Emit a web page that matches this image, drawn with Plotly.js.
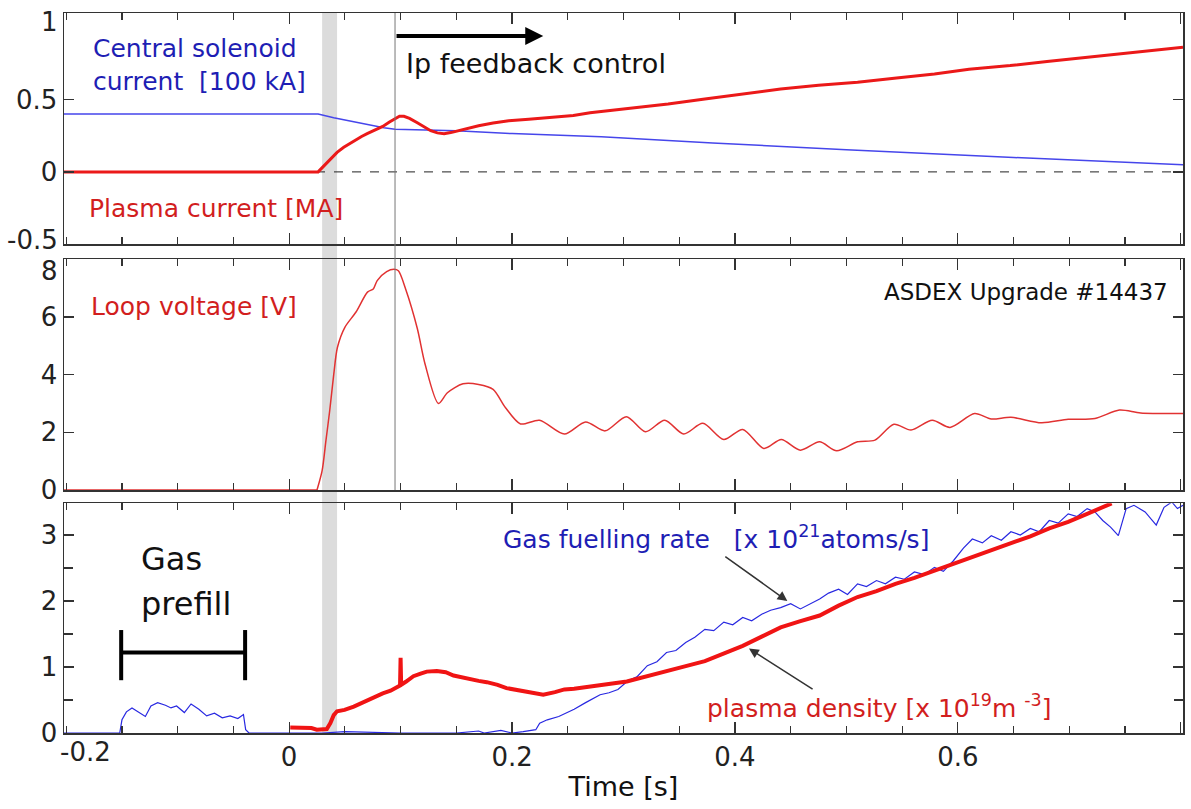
<!DOCTYPE html>
<html>
<head>
<meta charset="utf-8">
<script src="https://cdn.plot.ly/plotly-3.0.1.min.js"></script>
<style>
  html, body { margin: 0; padding: 0; background: #fff; }
  #chart { width: 1191px; height: 809px; }
</style>
</head>
<body>
<div id="chart"></div>
<script>
// ---------- data ----------
// Top panel: central solenoid current [100 kA]
const tCS = [-0.202, 0.026, 0.04, 0.055, 0.07, 0.085, 0.095, 0.12, 0.15, 0.2, 0.28, 0.38, 0.5, 0.65, 0.802];
const iCS = [0.40, 0.40, 0.375, 0.35, 0.325, 0.305, 0.295, 0.29, 0.285, 0.265, 0.243, 0.20, 0.153, 0.10, 0.05];

// Top panel: plasma current [MA]
const tIp = [-0.202, 0.026, 0.031, 0.037, 0.043, 0.049, 0.055, 0.06, 0.065, 0.07, 0.077, 0.084, 0.09, 0.095, 0.099, 0.103, 0.108, 0.115, 0.121, 0.127, 0.133, 0.139, 0.145, 0.152, 0.16, 0.17, 0.183, 0.197, 0.215, 0.238, 0.255, 0.27, 0.304, 0.34, 0.373, 0.41, 0.441, 0.475, 0.51, 0.545, 0.579, 0.61, 0.647, 0.68, 0.716, 0.76, 0.802];
const ip  = [0, 0, 0.04, 0.09, 0.135, 0.17, 0.2, 0.225, 0.245, 0.265, 0.29, 0.315, 0.345, 0.37, 0.385, 0.385, 0.37, 0.34, 0.31, 0.285, 0.27, 0.265, 0.272, 0.285, 0.3, 0.32, 0.338, 0.354, 0.365, 0.377, 0.39, 0.41, 0.44, 0.47, 0.505, 0.54, 0.574, 0.6, 0.62, 0.65, 0.678, 0.71, 0.736, 0.765, 0.794, 0.83, 0.863];

// Middle panel: loop voltage [V]
const tLoop = [-0.202, 0.025, 0.0296, 0.033, 0.0364, 0.04, 0.0433, 0.05, 0.06, 0.0703, 0.0755, 0.079, 0.0875, 0.094, 0.098, 0.1045, 0.115, 0.122, 0.134, 0.142, 0.156, 0.17, 0.183, 0.194, 0.2076, 0.2246, 0.247, 0.266, 0.2836, 0.3026, 0.3197, 0.337, 0.354, 0.3712, 0.39, 0.407, 0.426, 0.4416, 0.4587, 0.4759, 0.4913, 0.51, 0.5256, 0.5426, 0.558, 0.577, 0.593, 0.615, 0.63, 0.6476, 0.675, 0.699, 0.723, 0.745, 0.764, 0.802];
const uLoop = [0, 0, 0.67, 1.71, 2.75, 4.0, 4.94, 5.64, 6.17, 6.86, 6.97, 7.26, 7.57, 7.65, 7.6, 6.97, 5.6, 4.36, 3.0, 3.37, 3.68, 3.66, 3.49, 2.86, 2.29, 2.42, 1.94, 2.36, 2.05, 2.54, 2.02, 2.42, 1.94, 2.31, 1.75, 2.1, 1.44, 1.75, 1.38, 1.67, 1.36, 1.67, 1.73, 2.28, 2.08, 2.42, 2.17, 2.65, 2.46, 2.52, 2.33, 2.45, 2.48, 2.77, 2.67, 2.65];

// Bottom panel: gas fuelling rate [x 10^21 atoms/s]
const tGas = [-0.202, -0.152, -0.150, -0.146, -0.141, -0.136, -0.129, -0.124, -0.118, -0.111, -0.106, -0.101, -0.094, -0.088, -0.081, -0.074, -0.067, -0.060, -0.053, -0.046, -0.041, -0.039, -0.036, 0.03, 0.05, 0.1, 0.15, 0.17, 0.175, 0.19, 0.2, 0.21, 0.2213, 0.2248, 0.2316, 0.2419, 0.2557, 0.266, 0.279, 0.287, 0.295, 0.304, 0.312, 0.3214, 0.33, 0.3386, 0.347, 0.3558, 0.364, 0.373, 0.381, 0.39, 0.398, 0.407, 0.415, 0.424, 0.432, 0.441, 0.45, 0.4587, 0.467, 0.476, 0.484, 0.493, 0.501, 0.51, 0.518, 0.527, 0.535, 0.544, 0.552, 0.561, 0.57, 0.579, 0.587, 0.596, 0.605, 0.613, 0.622, 0.63, 0.639, 0.6476, 0.656, 0.665, 0.673, 0.682, 0.69, 0.699, 0.707, 0.716, 0.723, 0.73, 0.737, 0.744, 0.751, 0.758, 0.768, 0.773, 0.778, 0.785, 0.792, 0.797, 0.802];
const gas  = [0, 0, 0.20, 0.32, 0.38, 0.33, 0.25, 0.41, 0.46, 0.42, 0.38, 0.41, 0.31, 0.44, 0.36, 0.26, 0.30, 0.23, 0.26, 0.22, 0.28, 0.05, 0, 0, 0.02, 0, 0, 0.03, 0, 0.04, 0, 0.02, 0.05, 0.15, 0.20, 0.25, 0.36, 0.46, 0.58, 0.61, 0.66, 0.79, 0.85, 1.02, 1.08, 1.22, 1.25, 1.37, 1.45, 1.57, 1.55, 1.68, 1.64, 1.75, 1.70, 1.80, 1.86, 1.90, 1.96, 1.88, 1.95, 2.03, 2.12, 2.18, 2.10, 2.26, 2.22, 2.31, 2.26, 2.36, 2.33, 2.44, 2.40, 2.51, 2.45, 2.61, 2.80, 2.94, 2.88, 2.99, 2.92, 3.05, 3.0, 3.10, 3.05, 3.22, 3.18, 3.32, 3.28, 3.40, 3.35, 3.22, 3.12, 2.99, 3.40, 3.45, 3.35, 3.25, 3.15, 3.42, 3.5, 3.40, 3.45];

// Bottom panel: plasma density [x 10^19 m^-3]
const tNe = [0.001, 0.01, 0.02, 0.0248, 0.0338, 0.037, 0.04, 0.043, 0.0497, 0.058, 0.067, 0.075, 0.084, 0.091, 0.098, 0.0995, 0.1, 0.1005, 0.105, 0.1115, 0.118, 0.1235, 0.1325, 0.1405, 0.1475, 0.155, 0.162, 0.17, 0.1773, 0.187, 0.195, 0.2043, 0.213, 0.2213, 0.228, 0.2385, 0.247, 0.2557, 0.267, 0.279, 0.29, 0.303, 0.32, 0.3386, 0.355, 0.373, 0.39, 0.407, 0.424, 0.441, 0.458, 0.476, 0.493, 0.51, 0.527, 0.544, 0.561, 0.579, 0.596, 0.613, 0.63, 0.6476, 0.665, 0.682, 0.699, 0.716, 0.728, 0.738];
const ne  = [0.085, 0.08, 0.075, 0.05, 0.06, 0.15, 0.27, 0.33, 0.35, 0.40, 0.47, 0.53, 0.60, 0.64, 0.70, 0.72, 1.14, 0.73, 0.78, 0.86, 0.90, 0.93, 0.94, 0.92, 0.87, 0.84, 0.81, 0.79, 0.77, 0.73, 0.68, 0.65, 0.62, 0.59, 0.58, 0.62, 0.66, 0.67, 0.70, 0.72, 0.75, 0.78, 0.86, 0.94, 1.01, 1.09, 1.2, 1.32, 1.46, 1.60, 1.69, 1.78, 1.93, 2.06, 2.15, 2.26, 2.35, 2.46, 2.56, 2.66, 2.76, 2.87, 2.98, 3.10, 3.2, 3.32, 3.41, 3.48];

// tick labels / ranges (edge labels that the original nudges are drawn separately)
const xTickVals = [0, 0.2, 0.4, 0.6, 0.8];
const xTickText = ['0', '0.2', '0.4', '0.6', '0.8'];
const xEdgeLabel = {value: -0.2, text: '-0.2'};
const yTopTicks = [0, 0.5];
const yTopText  = ['0', '0.5'];
const yTopEdge  = [{value: 1, text: '1', shift: 5}, {value: -0.5, text: '-0.5', shift: 4}];
const yMidTicks = [0, 2, 4, 6];
const yMidEdge  = {value: 8, text: '8', shift: -12};
const yBotTicks = [0, 1, 2, 3];
const startupBand = [0.0296, 0.043];
const ipControlStart = 0.095;

// ---------- styling ----------
const FONT = 'DejaVu Sans, Verdana, sans-serif';
const BLUE_TXT = 'rgb(30,30,180)';
const RED_TXT = 'rgb(210,30,30)';
const AXC = '#333';
const XR = [-0.202, 0.802];
const TICKFONT = {family: FONT, size: 26, color: '#222'};

function xAxis(anchor, showLabels) {
  return {
    anchor: anchor, range: XR, showgrid: false, zeroline: false,
    showline: true, linecolor: AXC, linewidth: 1.5, mirror: 'ticks',
    ticks: 'inside', ticklen: 11, tickwidth: 1.2, tickcolor: AXC,
    tickvals: xTickVals, ticktext: xTickText, showticklabels: showLabels,
    tickfont: TICKFONT,
    minor: {dtick: 0.05, tick0: 0, ticks: 'inside', ticklen: 7, tickwidth: 1.2, tickcolor: AXC, showgrid: false}
  };
}
function yAxis(anchor, domain, range, vals, text) {
  const a = {
    anchor: anchor, domain: domain, range: range, showgrid: false, zeroline: false,
    showline: true, linecolor: AXC, linewidth: 1.5, mirror: 'ticks',
    ticks: 'inside', ticklen: 10, tickwidth: 1.2, tickcolor: AXC,
    tickvals: vals, tickfont: TICKFONT
  };
  if (text) a.ticktext = text;
  return a;
}

const nPre = 2; // loop voltage: flat pre-breakdown part drawn straight, rest smoothed
const traces = [
  {x: tCS, y: iCS, xaxis: 'x3', yaxis: 'y3', mode: 'lines', line: {color: 'rgb(70,70,235)', width: 1.5}, name: 'Central solenoid current'},
  {x: tIp, y: ip, xaxis: 'x3', yaxis: 'y3', mode: 'lines', line: {color: 'rgb(235,25,25)', width: 3}, name: 'Plasma current'},
  {x: tLoop.slice(0, nPre), y: uLoop.slice(0, nPre), xaxis: 'x2', yaxis: 'y2', mode: 'lines', line: {color: 'rgb(225,50,50)', width: 1.5}, name: 'Loop voltage (pre)'},
  {x: tLoop.slice(nPre - 1), y: uLoop.slice(nPre - 1), xaxis: 'x2', yaxis: 'y2', mode: 'lines', line: {color: 'rgb(225,50,50)', width: 1.5, shape: 'spline', smoothing: 0.8}, name: 'Loop voltage'},
  {x: tGas, y: gas, xaxis: 'x', yaxis: 'y', mode: 'lines', line: {color: 'rgb(40,40,225)', width: 1.2}, name: 'Gas fuelling rate'},
  {x: tNe, y: ne, xaxis: 'x', yaxis: 'y', mode: 'lines', line: {color: 'rgb(240,20,20)', width: 4}, name: 'Plasma density'}
];

const shapes = [
  // start-up band through all panels
  {type: 'rect', xref: 'x', yref: 'paper', x0: startupBand[0], x1: startupBand[1], y0: 0, y1: 1, fillcolor: '#dcdcdc', line: {width: 0}, layer: 'below'},
  // Ip feedback start line (top + middle panel)
  {type: 'line', xref: 'x', yref: 'paper', x0: ipControlStart, x1: ipControlStart, y0: 0.3375, y1: 1, line: {color: '#777', width: 1}, layer: 'above'},
  // dashed zero line, top panel
  {type: 'line', xref: 'x3 domain', yref: 'y3', x0: 0, x1: 1, y0: 0, y1: 0, line: {color: '#222', width: 1, dash: 'dash'}, layer: 'below'},
  // gas prefill bracket
  {type: 'line', xref: 'x', yref: 'y', x0: -0.1507, x1: -0.0395, y0: 1.22, y1: 1.22, line: {color: '#000', width: 4}},
  {type: 'line', xref: 'x', yref: 'y', x0: -0.1507, x1: -0.1507, y0: 0.80, y1: 1.56, line: {color: '#000', width: 4}},
  {type: 'line', xref: 'x', yref: 'y', x0: -0.0395, x1: -0.0395, y0: 0.80, y1: 1.56, line: {color: '#000', width: 4}}
];

const annotations = [
  // edge tick labels, nudged as in the original
  ...yTopEdge.map(e => ({xref: 'paper', yref: 'y3', x: 0, y: e.value, xanchor: 'right', yanchor: 'middle', xshift: -4, yshift: e.shift, showarrow: false, text: e.text, font: TICKFONT})),
  {xref: 'paper', yref: 'y2', x: 0, y: yMidEdge.value, xanchor: 'right', yanchor: 'middle', xshift: -4, yshift: yMidEdge.shift, showarrow: false, text: yMidEdge.text, font: TICKFONT},
  {xref: 'x', yref: 'paper', x: xEdgeLabel.value, y: 0, xanchor: 'center', yanchor: 'middle', xshift: 19, yshift: -19, showarrow: false, text: xEdgeLabel.text, font: TICKFONT},
  // panel texts
  {xref: 'x3', yref: 'y3', x: -0.178, y: 0.743, xanchor: 'left', yanchor: 'middle', align: 'left', showarrow: false,
   text: 'Central solenoid<br>current\u00a0\u00a0[100 kA]', font: {family: FONT, size: 25, color: BLUE_TXT}},
  {xref: 'x3', yref: 'y3', x: 0.103, y: 0.75, xanchor: 'left', yanchor: 'middle', showarrow: false,
   text: 'Ip feedback control', font: {family: FONT, size: 27, color: '#111'}},
  {xref: 'x3', yref: 'y3', x: -0.181, y: -0.25, xanchor: 'left', yanchor: 'middle', showarrow: false,
   text: 'Plasma current [MA]', font: {family: FONT, size: 25, color: RED_TXT}},
  {xref: 'x3', yref: 'y3', x: 0.228, y: 0.94, axref: 'x3', ayref: 'y3', ax: ipControlStart, ay: 0.94, text: '',
   showarrow: true, arrowhead: 2, arrowsize: 0.9, arrowwidth: 4, arrowcolor: '#000', standoff: 0},
  {xref: 'x2', yref: 'y2', x: -0.18, y: 6.35, xanchor: 'left', yanchor: 'middle', showarrow: false,
   text: 'Loop voltage [V]', font: {family: FONT, size: 25, color: RED_TXT}},
  {xref: 'x2', yref: 'y2', x: 0.79, y: 6.87, xanchor: 'right', yanchor: 'middle', showarrow: false,
   text: 'ASDEX Upgrade #14437', font: {family: FONT, size: 23, color: '#111'}},
  {xref: 'x', yref: 'y', x: 0.19, y: 2.96, xanchor: 'left', yanchor: 'middle', showarrow: false,
   text: 'Gas fuelling rate\u00a0\u00a0\u00a0[x 10<sup>21</sup>atoms/s]', font: {family: FONT, size: 25, color: BLUE_TXT}},
  {xref: 'x', yref: 'y', x: 0.373, y: 0.40, xanchor: 'left', yanchor: 'middle', showarrow: false,
   text: 'plasma density [x 10<sup>19</sup>m <sup>-3</sup>]', font: {family: FONT, size: 25, color: RED_TXT}},
  {xref: 'x', yref: 'y', x: 0.447, y: 2.0, axref: 'x', ayref: 'y', ax: 0.39, ay: 2.69, text: '',
   showarrow: true, arrowhead: 2, arrowsize: 1.3, arrowwidth: 1.5, arrowcolor: '#333', standoff: 0},
  {xref: 'x', yref: 'y', x: 0.4126, y: 1.28, axref: 'x', ayref: 'y', ax: 0.471, ay: 0.65, text: '',
   showarrow: true, arrowhead: 2, arrowsize: 1.3, arrowwidth: 1.5, arrowcolor: '#333', standoff: 0},
  {xref: 'x', yref: 'y', x: -0.135, y: 2.64, xanchor: 'left', yanchor: 'middle', showarrow: false,
   text: 'Gas', font: {family: FONT, size: 32, color: '#111'}},
  {xref: 'x', yref: 'y', x: -0.135, y: 1.96, xanchor: 'left', yanchor: 'middle', showarrow: false,
   text: 'prefill', font: {family: FONT, size: 32, color: '#111'}}
];

const xa1 = xAxis('y', true);
xa1.title = {text: 'Time [s]', font: {family: FONT, size: 27, color: '#111'}, standoff: 6};

const layout = {
  width: 1191, height: 809,
  margin: {l: 64, r: 8, t: 13, b: 76},
  paper_bgcolor: '#fff', plot_bgcolor: 'rgba(0,0,0,0)',
  showlegend: false,
  font: {family: FONT, size: 25, color: '#111'},
  xaxis: xa1,
  xaxis2: xAxis('y2', false),
  xaxis3: xAxis('y3', false),
  yaxis: Object.assign(yAxis('x', [0, 0.319], [0, 3.48], yBotTicks), {
    minor: {dtick: 0.5, tick0: 0, ticks: 'inside', ticklen: 9, tickwidth: 1.2, tickcolor: AXC, showgrid: false}
  }),
  yaxis2: yAxis('x2', [0.3375, 0.658], [0, 8], yMidTicks),
  yaxis3: yAxis('x3', [0.679, 1], [-0.5, 1.1], yTopTicks, yTopText),
  shapes: shapes,
  annotations: annotations
};

Plotly.newPlot('chart', traces, layout, {displayModeBar: false, staticPlot: true});
</script>
</body>
</html>
